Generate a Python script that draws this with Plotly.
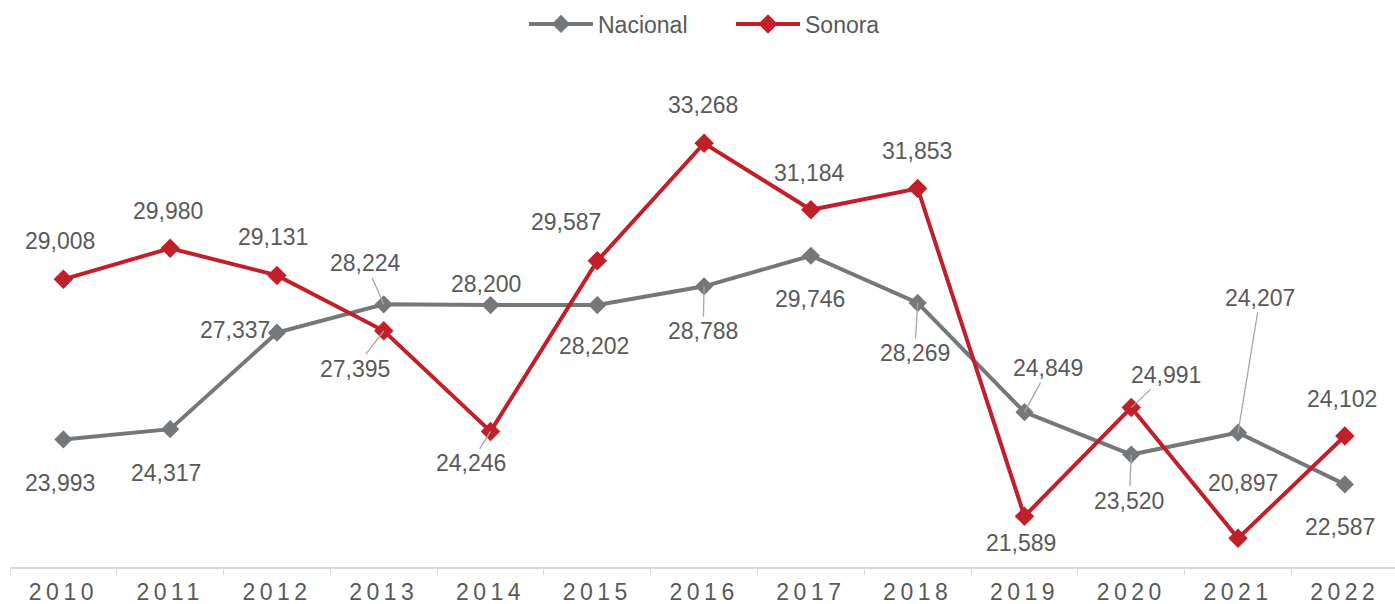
import plotly.graph_objects as go

years = ["2010", "2011", "2012", "2013", "2014", "2015", "2016",
         "2017", "2018", "2019", "2020", "2021", "2022"]
nacional = [23993, 24317, 27337, 28224, 28200, 28202, 28788,
            29746, 28269, 24849, 23520, 24207, 22587]
sonora = [29008, 29980, 29131, 27395, 24246, 29587, 33268,
          31184, 31853, 21589, 24991, 20897, 24102]

# label offsets (pixels) from each point, and whether a leader line is drawn
nac_ax = [-3, -4, -42, -18, -5, -3, -1, -1, -3, 24, -2, 22, -5]
nac_ay = [44, 44, -3, -41, -21, 41, 45, 43, 50, -44, 46, -135, 43]
nac_lead = [0, 0, 0, 1, 0, 0, 1, 0, 1, 1, 1, 1, 0]
son_ax = [-3, -2, -4, -29, -20, -31, -1, -1, -1, -3, 35, 5, -3]
son_ay = [-38, -37, -38, 38, 32, -39, -38, -37, -37, 27, -33, -55, -37]
son_lead = [0, 0, 0, 1, 1, 0, 0, 0, 0, 0, 1, 0, 0]

GRAY = "#75787B"
RED = "#C1202A"
TXT = "#595959"
FONT = "Liberation Sans, Arial, sans-serif"

fig = go.Figure()
fig.add_trace(go.Scatter(
    x=years, y=nacional, name="Nacional", mode="lines+markers",
    line=dict(color=GRAY, width=4),
    marker=dict(symbol="diamond", size=14, color=GRAY),
))
fig.add_trace(go.Scatter(
    x=years, y=sonora, name="Sonora", mode="lines+markers",
    line=dict(color=RED, width=4),
    marker=dict(symbol="diamond", size=15, color=RED),
))

annots = []
for vals, axs, ays, leads in [(nacional, nac_ax, nac_ay, nac_lead),
                              (sonora, son_ax, son_ay, son_lead)]:
    for i, (v, ax, ay, ld) in enumerate(zip(vals, axs, ays, leads)):
        annots.append(dict(
            x=i, y=v, xref="x", yref="y", text=f"{v:,}",
            showarrow=True, ax=ax, ay=ay,
            arrowhead=0, arrowwidth=1.3, standoff=0,
            arrowcolor="#A6A6A6" if ld else "rgba(0,0,0,0)",
            font=dict(family=FONT, size=23, color=TXT),
        ))

fig.update_layout(
    width=1395, height=604,
    margin=dict(l=10, r=0, t=56, b=37),
    paper_bgcolor="white", plot_bgcolor="white",
    showlegend=True,
    legend=dict(orientation="h", x=(524 - 10) / 1385, xanchor="left",
                yref="container", y=1 - 24 / 604, yanchor="middle",
                font=dict(family=FONT, size=23, color=TXT),
                entrywidth=128, entrywidthmode="pixels",
                itemwidth=64, tracegroupgap=0),
    annotations=annots,
    xaxis=dict(type="category", range=[-0.5, 12.47],
               showline=True, linecolor="#D9D9D9", linewidth=1.5,
               ticks="outside", tickson="boundaries", ticklen=6,
               tickcolor="#D9D9D9", tickwidth=1.2,
               ticklabelstandoff=4,
               showgrid=False, zeroline=False,
               tickfont=dict(family=FONT, size=23, color=TXT)),
    yaxis=dict(range=[20000, 36000], visible=False, showgrid=False,
               zeroline=False),
)

post = ("document.body.style.margin='0';"
        "var s=document.createElement('style');"
        "s.innerHTML='.xtick text{letter-spacing:4.5px}';"
        "document.head.appendChild(s);")
fig.write_html("out.html", post_script=post,
               config={"displayModeBar": False})
